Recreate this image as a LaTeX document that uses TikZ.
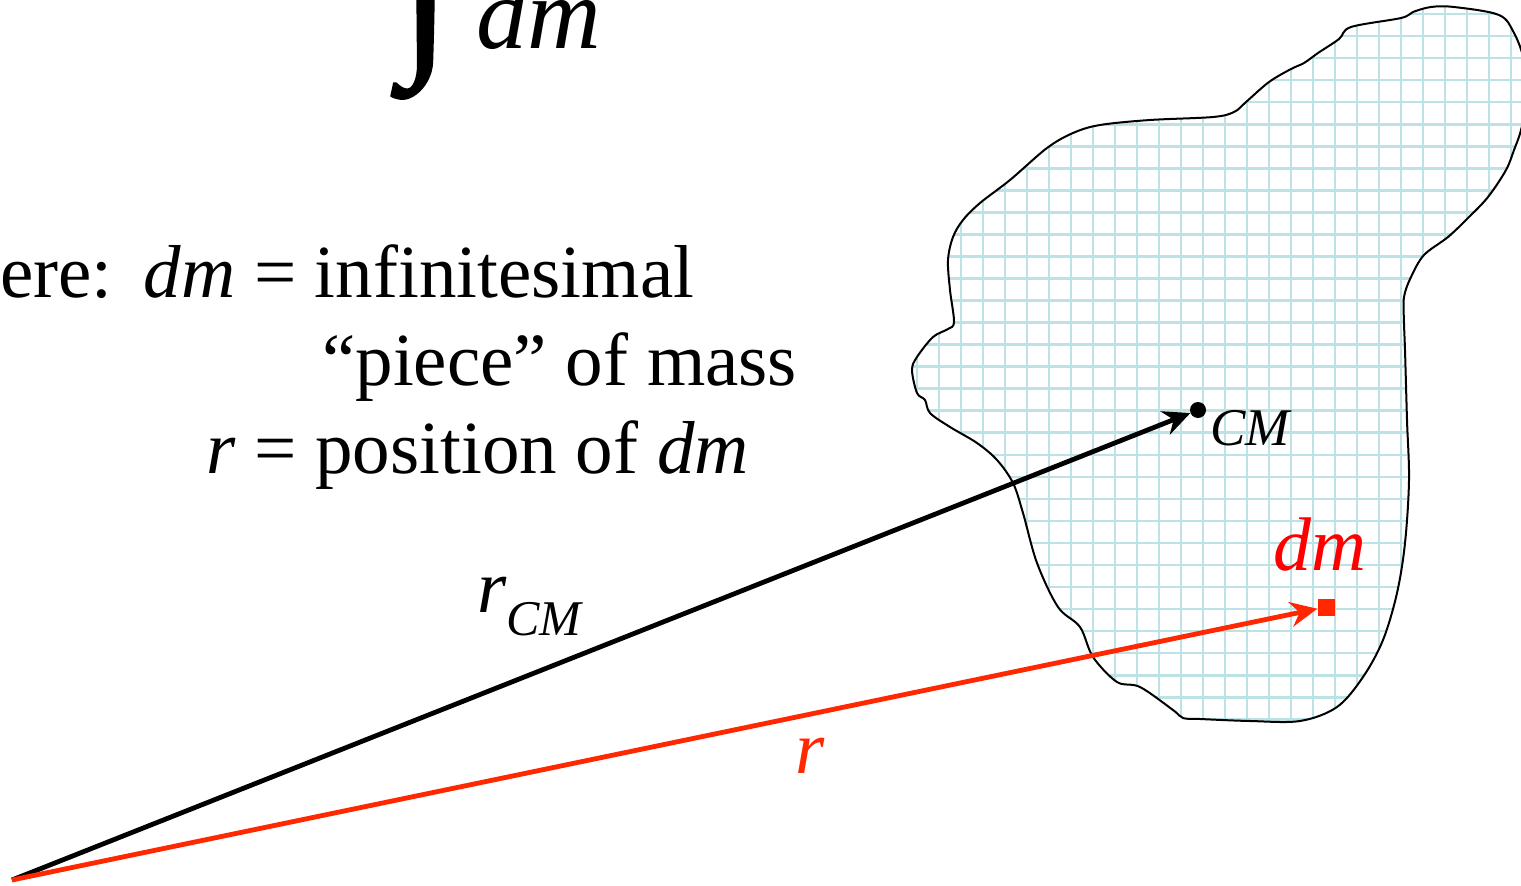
\documentclass[tikz,border=0pt]{standalone}
\usepackage{fontspec}
\setmainfont{Liberation Serif}
\newfontfamily\intfont[FakeBold=1.3]{Liberation Serif}
\usetikzlibrary{positioning,arrows.meta}
\definecolor{gridcyan}{RGB}{188,226,229}
\definecolor{vecred}{RGB}{255,40,0}
\newcommand\blobshape{plot[smooth cycle,tension=0.55] coordinates {
  (948,260) (953,237) (963,220) (980,203) (1010,180) (1047,148) (1073,133)
  (1100,125) (1150,120) (1213,117) (1234,112) (1246,102) (1269,82) (1291,69)
  (1304,63) (1318,53) (1339,39) (1351,27) (1401,18) (1413,12) (1431,7)
  (1454,7) (1499,15) (1514,33) (1524,60) (1528,95) (1521,130) (1514,150)
  (1506,170) (1488,197) (1468,218) (1448,237) (1424,255) (1411,277)
  (1404,297) (1404,323) (1405,350) (1407,420) (1409,480) (1405,543)
  (1397,593) (1383,640) (1363,677) (1337,707) (1300,721) (1250,721)
  (1200,719) (1183,718) (1173,710) (1140,687) (1117,682) (1093,657)
  (1080,627) (1058,607) (1037,563) (1023,513) (1013,483) (997,460)
  (977,443) (950,427) (930,413) (925,400) (917,393) (912,370) (917,357)
  (933,337) (948,329) (954,322) (950,290)}}

\begin{document}
\begin{tikzpicture}[x=1pt,y=-1pt,
  gridline/.style={draw=gridcyan,line width=2.6pt},
  outline/.style={draw=black,line width=2pt},
  vec/.style={line width=4.8pt,-{Stealth[length=27pt,width=25pt,inset=9pt]}},
  cmdot/.style={circle,fill=black,inner sep=0pt,minimum size=16pt},
  dmsq/.style={rectangle,fill=vecred,inner sep=0pt,minimum size=17pt},
  txt/.style={inner sep=0pt,anchor=base west,font=\fontsize{75}{88}\selectfont}]
\useasboundingbox (0,0) rectangle (1521,886);
\clip (0,0) rectangle (1521,886);

\begin{scope}
  \clip \blobshape;
  \foreach \gx in {41,...,69}
    \draw[gridline] ({15+22*\gx},0) -- ({15+22*\gx},886);
  \foreach \gy in {0,...,32}
    \draw[gridline] (900,{14+22.04*\gy}) -- (1521,{14+22.04*\gy});
\end{scope}
\draw[outline] \blobshape;

\node[inner sep=0pt,anchor=base,font=\fontsize{182}{182}\intfont] (intsign) at (426,50) {∫};
\node[txt,font=\fontsize{102}{102}\selectfont\itshape] (topdm) at (476,48) {dm};

\node[txt] (whereline) at (0,297) {ere:\hspace{31pt}\textit{dm} = infinitesimal};
\node[txt] (pieceline) at (322,385) {“piece” of mass};
\node[txt] (posline) at (206,473) {\textit{r} = position of \textit{dm}};

\coordinate (origin) at (12,880);
\node[cmdot] (cm) at (1198,410) {};
\node[dmsq] (dm) at (1326,607) {};
\draw[vec] (origin) -- (cm);
\draw[vec,vecred] (origin) -- (dm);

\node[inner sep=0pt,anchor=base west,font=\fontsize{53}{53}\selectfont\itshape] (cmlabel) at (1210,445) {CM};
\node[txt,text=red,font=\fontsize{76}{76}\selectfont\itshape] (dmlabel) at (1273,570) {dm};
\node[txt] (rcmlabel) at (477,612) {\textit{r}\raisebox{-23pt}{\fontsize{50}{50}\selectfont\textit{CM}}};
\node[txt,text=vecred] (rlabel) at (795,773) {\textit{r}};
\end{tikzpicture}
\end{document}
